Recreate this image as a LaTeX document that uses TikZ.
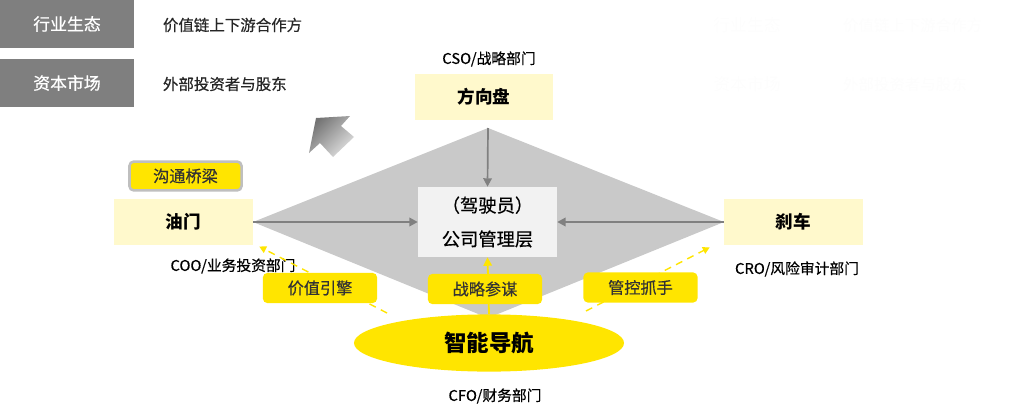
\documentclass[tikz,border=0pt]{standalone}
\usepackage{fontspec}
\setmainfont{Noto Sans CJK SC}
\newfontfamily\medfont[FakeBold=0.5]{Noto Sans CJK SC}
\usepackage{xcolor}
\usetikzlibrary{positioning, calc, arrows.meta, shapes.geometric}

\definecolor{hdgray}{HTML}{7F7F7F}
\definecolor{lyellow}{HTML}{FFF9CC}
\definecolor{myellow}{HTML}{FFE500}
\definecolor{dgray}{HTML}{C9C9C9}
\definecolor{arrgray}{HTML}{808080}
\definecolor{mgrfill}{HTML}{F2F2F2}
\definecolor{ghost}{HTML}{FDFDFD}

\begin{document}
\begin{tikzpicture}[
    x=0.025cm, y=-0.025cm,
    % 左上角灰色标签
    hdbox/.style={fill=hdgray, text=white, minimum width=3.35cm, minimum height=1.2cm, font=\medfont\fontsize{12}{14}\selectfont},
    hdtext/.style={anchor=west, text=black!85, font=\medfont\fontsize{11}{13}\selectfont},
    % 浅黄色部件框
    partbox/.style={fill=lyellow, minimum width=3.47cm, minimum height=1.15cm, font=\bfseries\fontsize{12.5}{14}\selectfont},
    % 黄色小标签
    tagbox/.style={fill=myellow, rounded corners=3pt, minimum width=2.85cm, minimum height=0.75cm, text=black!80, font=\medfont\fontsize{11.5}{13}\selectfont},
    deptlabel/.style={font=\medfont\fontsize{10.5}{12}\selectfont},
    % 连线
    grayarrow/.style={draw=arrgray, line width=1.6pt, -{Triangle[length=6pt, width=6pt]}},
    yelarrow/.style={draw=myellow, line width=1.3pt, -{Triangle[length=6pt, width=6pt]}},
    dasharrow/.style={draw=myellow, line width=1pt, dash pattern=on 5pt off 4pt, -{Triangle[length=5pt, width=5pt]}}
]
\useasboundingbox (0,0) rectangle (1027,414);

% 菱形背景的四个顶点
\coordinate (dT) at (488,128);
\coordinate (dL) at (253,222);
\coordinate (dB) at (488,318);
\coordinate (dR) at (724,222);
\fill[dgray] (dT) -- (dL) -- (dB) -- (dR) -- cycle;

% 左上角: 行业生态 / 资本市场
\node[hdbox] (hy) at (67,24) {行业生态};
\node[hdbox] (zb) at (67,83) {资本市场};
\node[hdtext] (hyt) at (158,25) {价值链上下游合作方};
\node[hdtext] (zbt) at (158,84) {外部投资者与股东};

% 右上角淡色文字
\node[text=ghost, font=\fontsize{12}{14}\selectfont] (ghy) at (747,25) {行业生态};
\node[text=ghost, font=\fontsize{12}{14}\selectfont] (gzb) at (747,84) {资本市场};
\node[hdtext, text=ghost] (ghyt) at (838,25) {价值链上下游合作方};
\node[hdtext, text=ghost] (gzbt) at (838,84) {外部投资者与股东};

% 灰色斜向箭头
\shade[left color=arrgray!90!black, right color=black!12, shading angle=45]
    (316,118) -- (350,116) -- (341,126) -- (354,137) -- (333,157) -- (320,143) -- (309,153) -- cycle;

% 方向盘 / 油门 / 刹车
\node[partbox, minimum width=3.45cm] (fxp) at (484,97) {方向盘};
\node[deptlabel] (cso) at (489,59) {CSO/战略部门};
\node[partbox] (ym) at (183.5,222) {油门};
\node[deptlabel] (coo) at (233,266) {COO/业务投资部门};
\node[partbox] (sc) at (793.5,222) {刹车};
\node[deptlabel] (cro) at (797,269) {CRO/风险审计部门};

% 中间: 公司管理层
\node[fill=mgrfill, minimum width=3.47cm, minimum height=1.75cm, align=center,
      font=\medfont\fontsize{13}{24}\selectfont] (mgr) at (487.5,222) {（驾驶员）\\公司管理层};

% 沟通桥梁
\node[tagbox, draw=black!25, line width=1.8pt, minimum width=2.8cm, minimum height=0.72cm] (gt) at (185.5,176) {沟通桥梁};

% 灰色箭头
\draw[grayarrow, line width=1.2pt] (dT) -- (mgr.north);
\draw[grayarrow] (ym.east) -- (mgr.west);
\draw[grayarrow] (sc.west) -- (mgr.east);

% 智能导航
\node[ellipse, fill=myellow, minimum width=6.75cm, minimum height=1.43cm, inner sep=0pt,
      font=\bfseries\fontsize{16}{18}\selectfont] (nav) at (489,343) {智能导航};
\node[deptlabel] (cfo) at (495,396) {CFO/财务部门};

% 黄色箭头
\coordinate (dsL) at (387,313);
\coordinate (dsR) at (586,311);
\draw[yelarrow] (nav.north) -- (mgr.south);
\draw[dasharrow] (dsL) -- ([xshift=0.15cm, yshift=-0.03cm]ym.south east);
\draw[dasharrow] (dsR) -- ([xshift=-0.35cm, yshift=-0.05cm]sc.south west);

% 黄色小标签
\node[tagbox] (jz) at (320,288) {价值引擎};
\node[tagbox] (zl) at (485,289) {战略参谋};
\node[tagbox] (gk) at (640.5,287.5) {管控抓手};

\end{tikzpicture}
\end{document}
